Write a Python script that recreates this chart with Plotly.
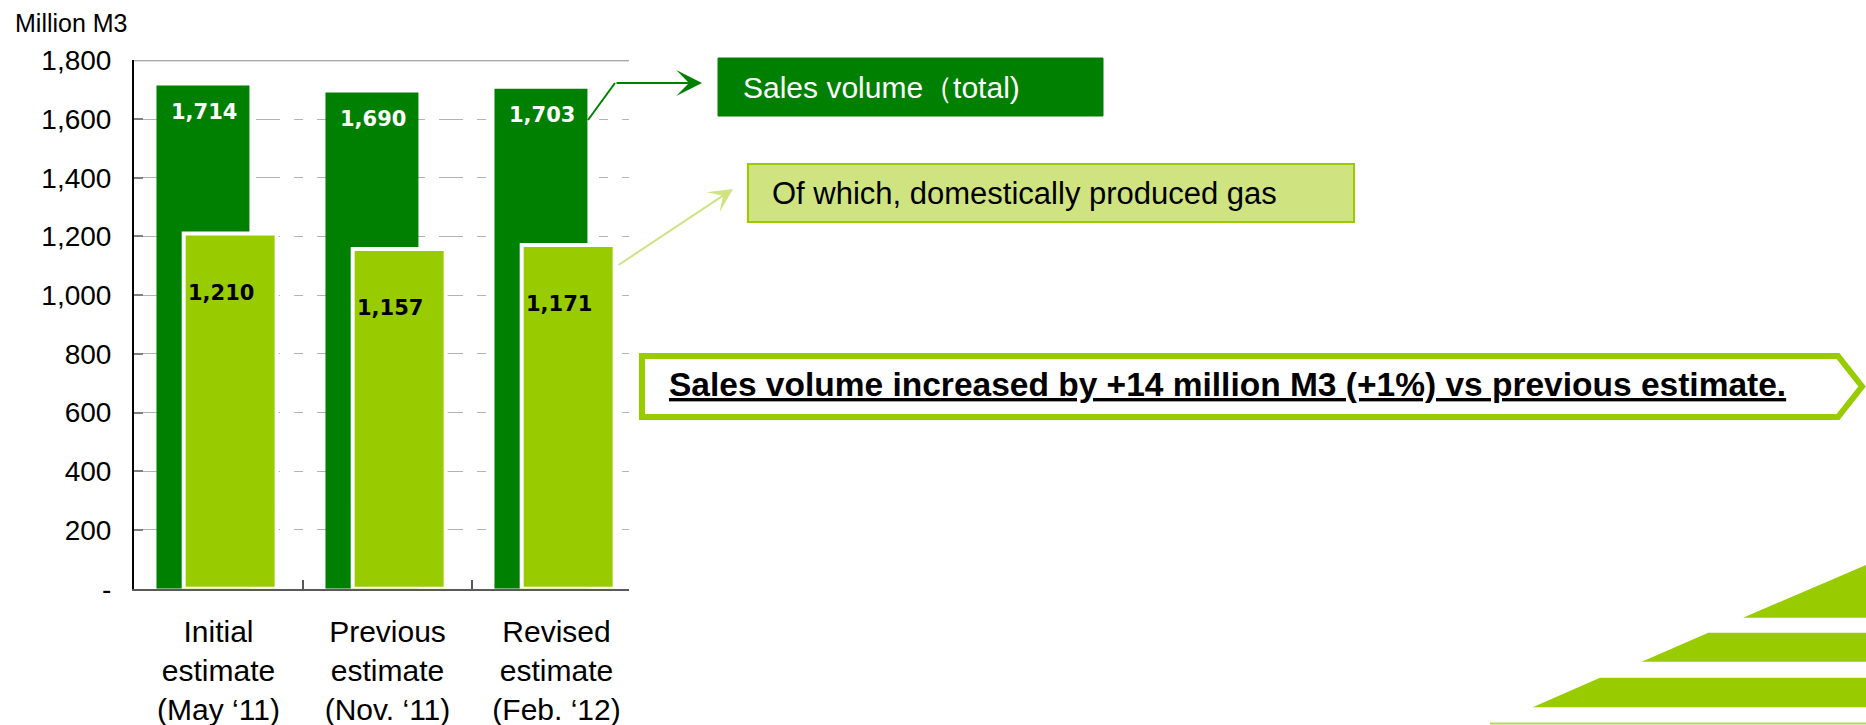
import plotly.graph_objects as go

# ---------------- data ----------------
categories = ["Initial<br>estimate<br>(May \u201811)",
              "Previous<br>estimate<br>(Nov. \u201811)",
              "Revised<br>estimate<br>(Feb. \u201812)"]
total_sales = [1714, 1690, 1703]
domestic_gas = [1210, 1157, 1171]
y_tick_vals = [0, 200, 400, 600, 800, 1000, 1200, 1400, 1600, 1800]
y_tick_labels = ["-", "200", "400", "600", "800", "1,000", "1,200", "1,400", "1,600", "1,800"]
unit_label = "Million M3"
total_label = "Sales volume\uff08total)"
domestic_label = "Of which, domestically produced gas"
callout_text = "Sales volume increased by +14 million M3 (+1%) vs previous estimate."

W, H = 1866, 725
DARK = "#008000"
LIGHT = "#99CC00"
PALE = "#CFE480"
FONT = "Liberation Sans, Arial, sans-serif"


def px(x):
    return x / W


def py(y):
    return 1 - y / H


fig = go.Figure()
fig.add_trace(go.Bar(x=categories, y=total_sales, offset=-0.367, width=0.55,
                     marker=dict(color=DARK, line=dict(width=0)),
                     name="Sales volume (total)", hoverinfo="y"))
fig.add_trace(go.Bar(x=categories, y=domestic_gas, offset=-0.206, width=0.55,
                     marker=dict(color=LIGHT, line=dict(color="white", width=4)),
                     name="Domestically produced gas", hoverinfo="y"))

annotations = []
for c, v in zip(categories, total_sales):
    annotations.append(dict(x=c, y=v, xref="x", yref="y", text=f"<b>{v:,}</b>",
                            showarrow=False, xshift=-15, yshift=-26,
                            font=dict(family="DejaVu Sans", size=21, color="white")))
for c, v in zip(categories, domestic_gas):
    annotations.append(dict(x=c, y=v, xref="x", yref="y", text=f"<b>{v:,}</b>",
                            showarrow=False, xshift=2, yshift=-59,
                            font=dict(family="DejaVu Sans", size=21, color="black")))

# unit label
annotations.append(dict(x=px(13), y=py(23), xref="paper", yref="paper", text=unit_label,
                        showarrow=False, xanchor="left", yanchor="middle",
                        font=dict(family=FONT, size=25, color="black")))
# box texts
annotations.append(dict(x=px(741), y=py(87), xref="paper", yref="paper", text=total_label,
                        showarrow=False, xanchor="left", yanchor="middle",
                        font=dict(family=FONT, size=30, color="white")))
annotations.append(dict(x=px(770), y=py(193), xref="paper", yref="paper", text=domestic_label,
                        showarrow=False, xanchor="left", yanchor="middle",
                        font=dict(family=FONT, size=31, color="black")))
# callout text
annotations.append(dict(x=px(667), y=py(385), xref="paper", yref="paper",
                        text=f"<b><u>{callout_text}</u></b>",
                        showarrow=False, xanchor="left", yanchor="middle",
                        font=dict(family=FONT, size=33.5, color="black")))
# arrows
annotations.append(dict(x=px(702), y=py(83), xref="paper", yref="paper", text="",
                        showarrow=True, ax=615 - 702, ay=0, axref="pixel", ayref="pixel",
                        arrowhead=3, arrowsize=2.15, arrowwidth=2, arrowcolor=DARK))
annotations.append(dict(x=px(733), y=py(189), xref="paper", yref="paper", text="",
                        showarrow=True, ax=617 - 733, ay=266 - 189, axref="pixel", ayref="pixel",
                        arrowhead=3, arrowsize=2.0, arrowwidth=2, arrowcolor=PALE))

shapes = []
# top line at 1800
shapes.append(dict(type="line", xref="paper", yref="y", x0=px(134), x1=px(629), y0=1800, y1=1800,
                   line=dict(color="#8C8C8C", width=2), layer="below"))
# first arrow segment
shapes.append(dict(type="line", xref="paper", yref="paper", x0=px(588), y0=py(120), x1=px(615), y1=py(83),
                   line=dict(color=DARK, width=2)))
# boxes
shapes.append(dict(type="rect", xref="paper", yref="paper", x0=px(718), x1=px(1103), y0=py(58), y1=py(116),
                   fillcolor=DARK, line=dict(color=DARK, width=1), layer="below"))
shapes.append(dict(type="rect", xref="paper", yref="paper", x0=px(748), x1=px(1354), y0=py(164), y1=py(222),
                   fillcolor=PALE, line=dict(color=LIGHT, width=2), layer="below"))
# callout pentagon
pent = [(642, 356), (1838, 356), (1862, 386.5), (1838, 417), (642, 417)]
path = "M" + " L".join(f"{px(a):.5f},{py(b):.5f}" for a, b in pent) + " Z"
shapes.append(dict(type="path", xref="paper", yref="paper", path=path,
                   fillcolor="white", line=dict(color=LIGHT, width=6), layer="below"))
# decorative stripes
stripes = [
    [(1743, 617.7), (1866, 565), (1866, 617.7)],
    [(1641.7, 661.7), (1708.3, 632.7), (1866, 632.7), (1866, 661.7)],
    [(1532.7, 707.3), (1600, 677.7), (1866, 677.7), (1866, 707.3)],
]
for s in stripes:
    p = "M" + " L".join(f"{px(a):.5f},{py(b):.5f}" for a, b in s) + " Z"
    shapes.append(dict(type="path", xref="paper", yref="paper", path=p,
                       fillcolor=LIGHT, line=dict(width=0), layer="below"))
shapes.append(dict(type="line", xref="paper", yref="paper", x0=px(1490), x1=px(1866), y0=py(723.5), y1=py(723.5),
                   line=dict(color="#B3D94D", width=2), layer="below"))

fig.update_layout(
    width=W, height=H,
    margin=dict(l=0, r=0, t=0, b=0),
    paper_bgcolor="white", plot_bgcolor="white",
    barmode="overlay", showlegend=False,
    font=dict(family=FONT, color="black"),
    annotations=annotations, shapes=shapes,
    xaxis=dict(domain=[px(134), px(628.5)], range=[-0.5, 2.426], type="category",
               showline=True, linecolor="#595959", linewidth=2,
               ticks="inside", ticklen=9, tickwidth=1.5, tickcolor="#595959",
               tickson="boundaries", showgrid=False, layer="below traces",
               tickfont=dict(family=FONT, size=30, color="black"),
               ticklabelstandoff=15, automargin=False, fixedrange=True),
    yaxis=dict(domain=[py(588.7), py(60.3)], range=[0, 1800],
               tickvals=y_tick_vals, ticktext=y_tick_labels,
               showline=True, linecolor="black", linewidth=2,
               ticks="inside", ticklen=9, tickwidth=1.5, tickcolor="#7F7F7F",
               showgrid=True, gridcolor="#B3B3B3", gridwidth=1, griddash="24px,14px,9px,14px",
               zeroline=False, layer="below traces",
               tickfont=dict(family=FONT, size=28, color="black"),
               ticklabelstandoff=15, automargin=False, fixedrange=True),
)

# remove the default 8px page margin so the 1866x725 figure fills the window exactly
fig.write_html("out.html",
               config={"displayModeBar": False},
               post_script="document.body.style.margin='0';document.body.style.overflow='hidden';")
